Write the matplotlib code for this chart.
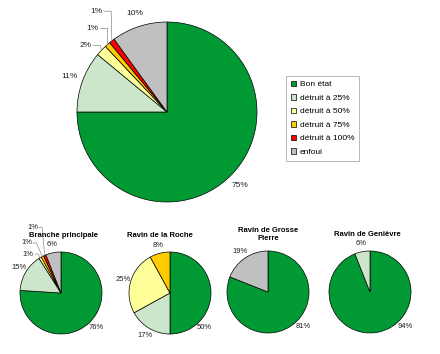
import numpy as np
import matplotlib
matplotlib.use('Agg')
import matplotlib.pyplot as plt
from matplotlib.patches import Patch

plt.rcParams['font.family'] = ['Liberation Sans', 'DejaVu Sans']

# Data
categories = ['Bon état', 'détruit à 25%', 'détruit à 50%', 'détruit à 75%', 'détruit à 100%', 'enfoui']
colors = ['#009933', '#cce6cc', '#ffff99', '#ffcc00', '#ff0000', '#c0c0c0']

total = [75, 11, 2, 1, 1, 10]
branche = [76, 15, 1, 1, 1, 6]
roche = [50, 17, 25, 8, 0, 0]
grosse = [81, 0, 0, 0, 0, 19]
genievre = [94, 6, 0, 0, 0, 0]

small_titles = ['Branche principale', 'Ravin de la Roche', 'Ravin de Grosse\nPierre', 'Ravin de Genièvre']
small_values = [branche, roche, grosse, genievre]

W, H = 440, 354
fig = plt.figure(figsize=(W / 100, H / 100), dpi=100)


def pie_axes(cx, cy, r):
    ax = fig.add_axes([(cx - 1.03 * r) / W, (H - cy - 1.03 * r) / H, 2.06 * r / W, 2.06 * r / H])
    return ax


def draw_pie(ax, values, fs, leaders=None, big_angle=-45, dist=1.17):
    vals = [v for v in values if v > 0]
    cols = [c for v, c in zip(values, colors) if v > 0]
    wedges, _ = ax.pie(vals, colors=cols, startangle=90, counterclock=False,
                       wedgeprops=dict(edgecolor='black', linewidth=0.5))
    # pie() resets the limits, so set them afterwards
    ax.set_xlim(-1.03, 1.03)
    ax.set_ylim(-1.03, 1.03)
    ax.axis('off')
    for w in wedges:
        w.set_clip_on(False)
    leaders = leaders or {}
    for i, (w, v) in enumerate(zip(wedges, vals)):
        mid = np.deg2rad((w.theta1 + w.theta2) / 2)
        txt = f'{v}%'
        if i in leaders:
            tx, ty = leaders[i]
            ax.text(tx, ty, txt, ha='right', va='center', fontsize=fs, color='#222222')
            px, py = np.cos(mid), np.sin(mid)
            kx = tx + 0.1
            ax.plot([tx + 0.02, kx, px], [ty, ty, py], color='#888888', lw=0.5, clip_on=False)
            continue
        if i == 0:
            mid = np.deg2rad(big_angle)
        ax.text(dist * np.cos(mid), dist * np.sin(mid), txt, ha='center', va='center',
                fontsize=fs, color='#222222')
    return wedges


# Main pie
ax = pie_axes(167, 112, 90)
main_leaders = {2: (-0.84, 0.74), 3: (-0.76, 0.93), 4: (-0.72, 1.12)}
wedges = draw_pie(ax, total, 6, leaders=main_leaders, dist=1.15)

handles = [Patch(facecolor=c, edgecolor='black', linewidth=0.5) for c in colors]
leg = fig.legend(handles, categories, loc='upper left', bbox_to_anchor=(286 / W, 1 - 76 / H),
                 fontsize=6, frameon=True, fancybox=False, handlelength=0.7, handleheight=0.7,
                 handletextpad=0.4, labelspacing=0.68, borderpad=0.55, borderaxespad=0)
leg.get_frame().set_edgecolor('#999999')
leg.get_frame().set_linewidth(0.6)

# Small pies
centers = [(61, 293), (170, 293), (268, 292), (370, 292)]
title_dx = [0.05, -0.25, 0, -0.07]
branche_leaders = {2: (-0.66, 0.95), 3: (-0.7, 1.22), 4: (-0.56, 1.6)}
for k, ((cx, cy), vals, title) in enumerate(zip(centers, small_values, small_titles)):
    a = pie_axes(cx, cy, 41)
    draw_pie(a, vals, 5.5, leaders=branche_leaders if k == 0 else None,
             big_angle=-45, dist=1.2)
    a.text(title_dx[k], 1.4, title, ha='center', va='center', fontsize=5.5,
           fontweight='bold', linespacing=1.3)

fig.savefig('out.png', dpi=100)
